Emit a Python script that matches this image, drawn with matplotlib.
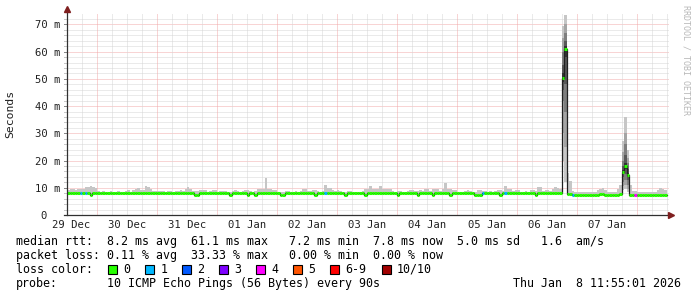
import numpy as np
import matplotlib.pyplot as plt
from matplotlib.patches import Rectangle

plt.rcParams['font.family'] = ['DejaVu Sans Mono']

# x axis: hourly bins starting 29 Dec 12:00, labels at noon of each day
day_labels = ['29 Dec', '30 Dec', '31 Dec', '01 Jan', '02 Jan',
              '03 Jan', '04 Jan', '05 Jan', '06 Jan', '07 Jan']

# max of the 10 pings per hour (ms), one row per day
max_ms = [
    9.0, 9.5, 9.5, 9.3, 9.5, 9.7, 9.7, 10.3, 10.4, 10.5, 10.2, 9.8, 8.7, 8.6, 8.8, 8.6, 8.5, 8.7, 8.6, 8.6, 8.8, 8.6, 8.5, 8.7,
    9.3, 8.6, 9.2, 9.7, 9.8, 9.0, 9.2, 10.5, 10.2, 9.6, 8.8, 8.8, 8.8, 8.7, 8.8, 8.6, 8.8, 8.7, 8.6, 8.8, 8.9, 9.2, 8.8, 9.4,
    10.4, 9.6, 8.9, 8.8, 8.9, 9.1, 9.1, 9.0, 8.6, 8.7, 9.1, 9.1, 8.6, 8.7, 8.9, 8.9, 8.6, 8.6, 8.7, 9.1, 8.7, 8.6, 8.7, 9.2,
    9.2, 8.8, 8.6, 8.7, 9.7, 9.7, 9.5, 13.7, 9.7, 9.7, 9.1, 9.0, 8.6, 8.5, 8.6, 8.9, 8.9, 8.6, 8.6, 8.7, 8.6, 8.7, 9.5, 9.5,
    8.8, 8.7, 9.3, 9.3, 8.7, 8.6, 8.8, 11.2, 9.8, 9.8, 9.2, 8.9, 9.1, 8.7, 8.6, 8.6, 8.9, 8.9, 8.6, 8.6, 8.5, 8.6, 8.7, 9.4,
    9.4, 10.5, 9.6, 9.7, 9.7, 10.6, 9.7, 9.7, 9.6, 9.7, 8.9, 8.6, 8.8, 8.9, 8.6, 8.6, 8.8, 9.0, 9.0, 8.8, 8.7, 9.0, 8.8, 9.7,
    9.7, 8.9, 9.5, 9.5, 9.5, 8.9, 9.7, 11.7, 9.7, 9.6, 9.1, 9.1, 8.6, 8.6, 8.6, 8.7, 9.1, 8.7, 8.6, 8.6, 9.2, 9.2, 8.9, 8.7,
    8.6, 8.7, 8.6, 8.7, 9.3, 9.3, 8.9, 10.5, 9.7, 9.7, 8.8, 9.1, 9.0, 8.6, 8.6, 8.7, 8.6, 9.3, 9.3, 8.8, 10.4, 10.4, 8.8, 9.1,
    9.1, 8.8, 9.5, 10.3, 10.0, 9.5, 69.5, 73.5, 15.4, 12.5, 8.8, 8.5, 8.5, 8.6, 8.5, 8.6, 8.5, 8.5, 8.6, 8.5, 9.0, 9.7, 9.8, 9.2,
    8.3, 8.3, 8.4, 8.5, 9.6, 11.0, 27.0, 36.0, 24.0, 11.0, 8.9, 8.9, 8.6, 8.5, 8.4, 8.4, 8.5, 8.4, 8.5, 8.4, 9.2, 9.8, 9.7, 9.0,
]

# median rtt per hour (ms)
median_ms = [
    7.9, 7.9, 7.9, 7.9, 7.9, 7.9, 7.9, 7.9, 7.9, 7.5, 7.9, 7.9, 7.9, 7.9, 7.9, 7.9, 7.9, 7.9, 7.9, 7.9, 7.9, 7.9, 7.9, 7.9,
    7.9, 7.9, 7.9, 7.9, 7.9, 7.9, 7.9, 7.9, 7.9, 7.9, 7.9, 7.9, 7.9, 7.9, 7.9, 7.9, 7.9, 7.9, 7.9, 7.9, 7.9, 7.9, 7.9, 7.9,
    7.9, 7.9, 7.9, 7.5, 7.5, 7.9, 7.9, 7.9, 7.9, 7.9, 7.9, 7.9, 7.9, 7.9, 7.9, 7.9, 7.9, 7.5, 7.9, 7.9, 7.9, 7.9, 7.9, 7.9,
    7.5, 7.9, 7.9, 7.5, 7.9, 7.9, 7.9, 8.1, 7.9, 7.9, 7.9, 7.9, 7.9, 7.5, 7.5, 7.9, 7.9, 7.9, 7.9, 7.9, 7.9, 7.9, 7.9, 7.9,
    7.9, 7.9, 7.9, 7.5, 7.9, 7.9, 7.9, 7.9, 7.9, 7.9, 7.9, 7.9, 7.9, 7.9, 7.9, 7.5, 7.9, 7.9, 7.9, 7.9, 7.9, 7.9, 7.9, 7.5,
    7.9, 7.9, 7.9, 7.9, 7.9, 7.9, 7.9, 7.9, 7.9, 7.9, 7.9, 7.9, 7.5, 7.9, 7.9, 7.9, 7.9, 7.9, 7.9, 7.9, 7.5, 7.9, 7.9, 7.9,
    7.9, 7.9, 7.5, 7.9, 7.9, 7.9, 7.9, 7.9, 7.9, 7.5, 7.9, 7.9, 7.9, 7.9, 7.9, 7.9, 7.9, 7.9, 7.9, 7.3, 7.3, 7.3, 7.9, 7.9,
    7.9, 7.9, 7.9, 7.9, 7.9, 7.5, 7.9, 7.9, 7.9, 7.9, 7.9, 7.9, 7.9, 7.9, 7.9, 7.9, 7.9, 7.9, 7.9, 7.5, 7.9, 7.9, 7.9, 7.9,
    7.9, 7.9, 7.9, 7.9, 7.9, 7.9, 50.5, 61.0, 7.7, 7.6, 7.5, 7.3, 7.3, 7.3, 7.2, 7.3, 7.2, 7.2, 7.3, 7.3, 7.5, 7.6, 7.6, 7.3,
    7.2, 7.2, 7.3, 7.3, 7.4, 7.8, 15.7, 18.0, 14.6, 7.4, 7.3, 7.3, 7.3, 7.2, 7.3, 7.3, 7.2, 7.3, 7.3, 7.3, 7.3, 7.4, 7.4, 7.4,
]

# sorted ping values (ms) for the hours with a wide spread
spike_bins = [198, 199, 222, 223, 224]
spike_pings = [
    [20.0, 30.0, 42.0, 46.0, 49.0, 52.0, 55.0, 60.0, 65.0, 69.5],
    [12.0, 25.0, 38.0, 48.0, 58.0, 62.0, 64.0, 67.0, 70.0, 73.5],
    [9.0, 10.5, 12.0, 14.0, 15.0, 16.5, 18.0, 20.0, 23.0, 27.0],
    [9.5, 11.0, 13.0, 15.0, 17.0, 19.0, 22.0, 26.0, 30.0, 36.0],
    [8.5, 9.5, 11.0, 13.0, 14.0, 15.5, 17.0, 19.0, 21.0, 24.0],
]

# hours with lost pings
loss_bins = [5, 7, 103, 166, 175, 202, 227]
loss_counts = [1, 1, 1, 1, 1, 1, 4]

loss_labels = ['0', '1', '2', '3', '4', '5', '6-9', '10/10']
loss_colors = ['#26ff00', '#00b8ff', '#0059ff', '#7e00ff', '#ff00ff',
               '#ff5500', '#ff0000', '#a10000']
smoke_shades = ['#c6c6c6', '#a4a4a4', '#7e7e7e', '#585858', '#323232']

W, H = 697, 297
fig = plt.figure(figsize=(W / 100, H / 100), dpi=100)
fig.patch.set_facecolor('white')
px0, px1, py0, py1 = 67, 669.5, 215, 13
ax = fig.add_axes([px0 / W, 1 - py0 / H, (px1 - px0) / W, (py0 - py1) / H])
ax.set_facecolor('white')
for s in ax.spines.values():
    s.set_visible(False)

n = len(median_ms)
ymax = 74.2
ax.set_xlim(0, 241)
ax.set_ylim(0, ymax)

minor_col = '#d6d6d6'
major_col = '#f2aaaa'
dots = (0, (1, 1))

# horizontal grid
for v in range(2, 74, 2):
    major = v % 10 == 0
    ax.plot([0, 241], [v, v], color=major_col if major else minor_col,
            lw=0.72, ls=dots, zorder=0)
    ax.plot([-1.2, 0], [v, v], color='#888888' if major else '#c8c8c8',
            lw=0.72, clip_on=False, zorder=0)
# vertical grid, red at midnight
for h in range(6, 241, 6):
    major = (h - 12) % 24 == 0
    ax.plot([h, h], [0, ymax], color=major_col if major else minor_col,
            lw=0.72, ls=dots, zorder=0)
    ax.plot([h, h], [-0.11, 0], color=major_col if major else '#c8c8c8',
            lw=0.72, clip_on=False, zorder=0)

edges = np.arange(n + 1)
med = np.array(median_ms)
top = np.array(max_ms)

# smoke
ax.fill_between(edges, np.append(med, med[-1]), np.append(top, top[-1]),
                step='post', color=smoke_shades[0], lw=0, zorder=1)
for b, pings in zip(spike_bins, spike_pings):
    for i, shade in enumerate(smoke_shades):
        ax.fill_between([b, b + 1], pings[i], pings[9 - i], color=shade,
                        lw=0, zorder=1)

# median line: dark steps with loss coloured segments
ax.step(edges, np.append(med, med[-1]), where='post', color='#202020',
        lw=0.9, zorder=2)
seg_colors = [loss_colors[0]] * n
for b, c in zip(loss_bins, loss_counts):
    seg_colors[b] = loss_colors[c]
ax.hlines(med, edges[:-1], edges[1:], colors=seg_colors, lw=2.2, zorder=3)

# axes with arrows
ax.plot([0, 0], [0, 75.2], color='#303030', lw=0.9, clip_on=False, zorder=4)
ax.plot([-1.2, 241.0], [0, 0], color='#303030', lw=0.9, clip_on=False, zorder=4)
ax.plot([0], [75.6], marker='^', ms=4.5, color='#7f1f1f', mec='#7f1f1f',
        clip_on=False, zorder=5)
ax.plot([241.6], [0], marker='>', ms=4.5, color='#7f1f1f', mec='#7f1f1f',
        clip_on=False, zorder=5)

ax.set_yticks(range(0, 71, 10))
ax.set_yticklabels(['0  '] + ['%d m' % v for v in range(10, 71, 10)])
ax.set_xticks([1.5] + list(range(24, 217, 24)))
ax.set_xticklabels(day_labels)
ax.tick_params(axis='y', length=0, pad=5, labelsize=7.6, labelcolor='#202020')
ax.tick_params(axis='x', length=0, pad=3.5, labelsize=7.6, labelcolor='#202020')

fig.text(10.5 / W, 1 - 114 / H, 'Seconds', rotation=90, ha='center',
         va='center', fontsize=8.2, color='#202020')
fig.text(686 / W, 1 - 5 / H, 'RRDTOOL / TOBI OETIKER', rotation=270,
         ha='center', va='top', fontsize=6, color='#b8b8b8')

fs = 8.4
rows = [
    'median rtt:  8.2 ms avg  61.1 ms max   7.2 ms min  7.8 ms now  5.0 ms sd   1.6  am/s',
    'packet loss: 0.11 % avg  33.33 % max   0.00 % min  0.00 % now',
]
row_y = [241.5, 255.2, 269.2, 283.2]
for txt, y in zip(rows, row_y):
    fig.text(16 / W, 1 - y / H, txt, ha='left', va='center', fontsize=fs,
             color='#000000')
fig.text(16 / W, 1 - row_y[2] / H, 'loss color:', ha='left', va='center',
         fontsize=fs)
box_x = [108, 145.3, 182.3, 219.3, 256.3, 293.3, 330.3, 381.7]
for bx, lab, col in zip(box_x, loss_labels, loss_colors):
    fig.add_artist(Rectangle((bx / W, 1 - (row_y[2] + 4.5) / H), 9 / W, 9 / H,
                             transform=fig.transFigure, facecolor=col,
                             edgecolor='#000000', lw=0.8))
    fig.text((bx + 15) / W, 1 - row_y[2] / H, lab, ha='left', va='center',
             fontsize=fs)
fig.text(16 / W, 1 - row_y[3] / H, 'probe:', ha='left', va='center', fontsize=fs)
fig.text(107 / W, 1 - row_y[3] / H, '10 ICMP Echo Pings (56 Bytes) every 90s',
         ha='left', va='center', fontsize=fs)
fig.text(513 / W, 1 - row_y[3] / H, 'Thu Jan  8 11:55:01 2026', ha='left',
         va='center', fontsize=fs)

fig.savefig('out.png', dpi=100, facecolor='white')
